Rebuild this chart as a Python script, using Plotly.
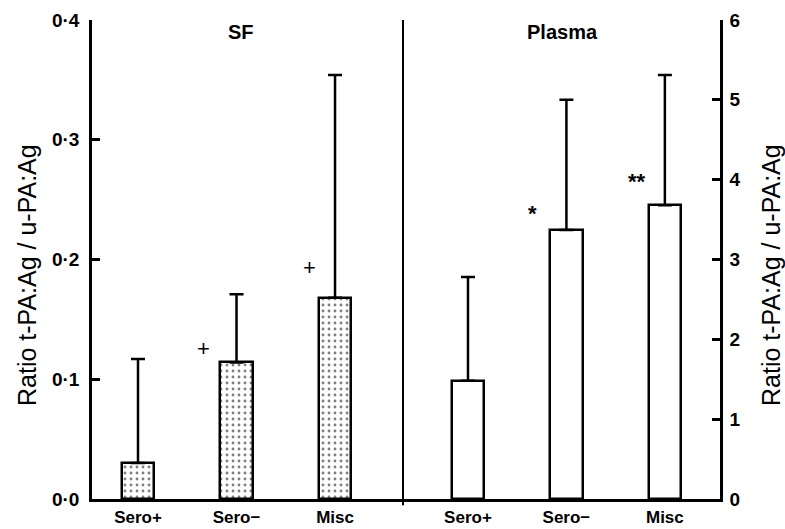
import plotly.graph_objects as go

categories = ["Sero+", "Sero\u2212", "Misc"]
sf_values = [0.030, 0.114, 0.168]
sf_err = [0.087, 0.057, 0.186]
plasma_values = [1.48, 3.37, 3.68]
plasma_err = [1.30, 1.63, 1.63]

left_ticks = [0, 0.1, 0.2, 0.3, 0.4]
left_ticktext = ["0\u00b70", "0\u00b71", "0\u00b72", "0\u00b73", "0\u00b74"]
right_ticks = [0, 1, 2, 3, 4, 5, 6]
right_ticktext = ["0", "1", "2", "3", "4", "5", "6"]

sf_marks = [("+", 0.66, 0.126), ("+", 1.74, 0.193)]
plasma_marks = [("*", 0.66, 3.58), ("**", 1.72, 3.98)]

y_title = "Ratio t-PA:Ag / u-PA:Ag"

FONT = "Liberation Sans, Arial, sans-serif"
LW = 2.5
L, R, T, B = 92, 65, 20, 30
PW, PH = 785 - L - R, 529 - T - B
split = (403 - L) / PW

fig = go.Figure()
fig.add_trace(go.Bar(
    x=categories, y=sf_values, xaxis="x", yaxis="y", width=0.33,
    marker=dict(color="white", line=dict(color="black", width=LW),
                pattern=dict(shape=".", fgcolor="black", bgcolor="white", size=6, solidity=0.18)),
    error_y=dict(type="data", symmetric=False, array=sf_err, arrayminus=[0, 0, 0],
                 color="black", thickness=LW, width=7),
    showlegend=False, hoverinfo="skip"))
fig.add_trace(go.Bar(
    x=categories, y=plasma_values, xaxis="x2", yaxis="y2", width=0.33,
    marker=dict(color="white", line=dict(color="black", width=LW)),
    error_y=dict(type="data", symmetric=False, array=plasma_err, arrayminus=[0, 0, 0],
                 color="black", thickness=LW, width=7),
    showlegend=False, hoverinfo="skip"))

tickfont = dict(family=FONT, size=19, color="black", weight="bold")
catfont = dict(family=FONT, size=17, color="black", weight="bold")
titlefont = dict(family=FONT, size=25, color="black")

common_x = dict(type="category", showline=True, linecolor="black", linewidth=LW,
                showgrid=False, zeroline=False, ticks="", tickfont=catfont,
                ticklabelstandoff=1, automargin=False)
common_y = dict(showline=True, linecolor="black", linewidth=LW, ticks="inside", ticklen=8,
                tickwidth=LW, tickcolor="black", tickfont=tickfont, showgrid=False,
                zeroline=False, automargin=False)

fig.update_layout(
    width=785, height=529,
    margin=dict(l=L, r=R, t=T, b=B),
    paper_bgcolor="white", plot_bgcolor="white",
    bargap=0,
    xaxis=dict(domain=[0, split], anchor="y", range=[-0.467, 2.69], **common_x),
    xaxis2=dict(domain=[split, 1], anchor="y2", range=[-0.66, 2.56], **common_x),
    yaxis=dict(range=[0, 0.4], anchor="x", side="left", tickvals=left_ticks,
               ticktext=left_ticktext, ticklabelstandoff=6, **common_y),
    yaxis2=dict(range=[0, 6], anchor="x2", side="right", tickvals=right_ticks,
                ticktext=right_ticktext, ticklabelstandoff=3, **common_y),
    shapes=[dict(type="line", xref="paper", yref="paper", x0=split, x1=split, y0=-0.013, y1=1,
                 line=dict(color="black", width=2))],
)

ann = [
    dict(text="SF", x=1.05, y=0.39, xref="x", yref="y", showarrow=False,
         font=dict(family=FONT, size=20, color="black", weight="bold")),
    dict(text="Plasma", x=0.96, y=5.85, xref="x2", yref="y2", showarrow=False,
         font=dict(family=FONT, size=20, color="black", weight="bold")),
    dict(text=y_title, textangle=-90, x=(27 - L) / PW, y=(499 - 275) / PH, xref="paper",
         yref="paper", xanchor="center", yanchor="middle", showarrow=False, font=titlefont),
    dict(text=y_title, textangle=-90, x=(771 - L) / PW, y=(499 - 275) / PH, xref="paper",
         yref="paper", xanchor="center", yanchor="middle", showarrow=False, font=titlefont),
]
for t, xx, yy in sf_marks:
    ann.append(dict(text=t, x=xx, y=yy, xref="x", yref="y", showarrow=False,
                    font=dict(family=FONT, size=22, color="black")))
for t, xx, yy in plasma_marks:
    ann.append(dict(text=t, x=xx, y=yy, xref="x2", yref="y2", showarrow=False,
                    font=dict(family=FONT, size=22, color="black", weight="bold")))
fig.update_layout(annotations=ann)

fig.write_html("out.html", config={"displayModeBar": False},
               post_script="document.body.style.margin='0px';")
